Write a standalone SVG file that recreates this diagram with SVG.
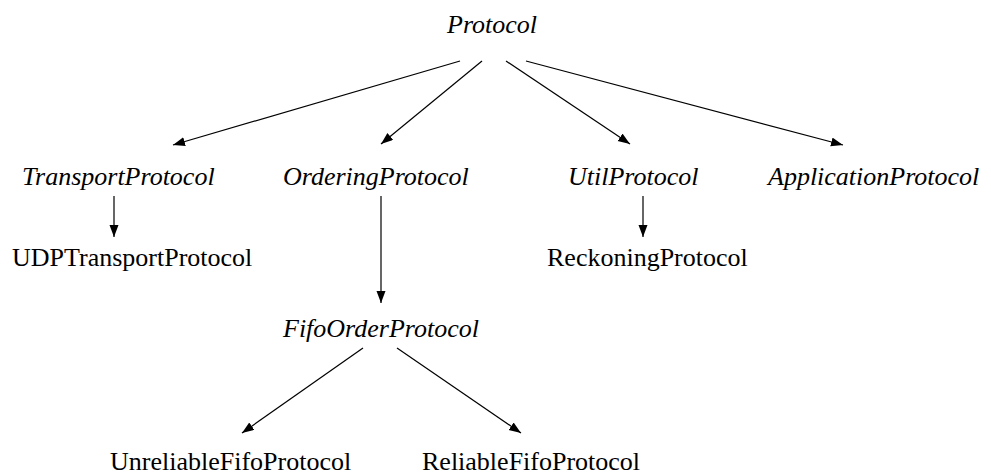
<svg xmlns="http://www.w3.org/2000/svg" width="991" height="475" viewBox="0 0 991 475">
<style>
text{font-family:'Liberation Serif','Times New Roman',Tinos,'DejaVu Serif',serif;font-size:26px;fill:#000}
.a{font-style:italic}
.e line{stroke:#000;stroke-width:1.2;fill:none;marker-end:url(#ah)}
</style>
<defs>
<marker id="ah" markerUnits="userSpaceOnUse" markerWidth="13" markerHeight="10" refX="12" refY="4.5" orient="auto">
<path d="M0,0 L12,4.5 L0,9 z" fill="#000"/>
</marker>
</defs>
<rect width="991" height="475" fill="#fff"/>
<g class="e" id="connectors">
<line x1="460" y1="61" x2="173" y2="145"/>
<line x1="482" y1="61" x2="381" y2="144"/>
<line x1="506" y1="61" x2="630" y2="144"/>
<line x1="526" y1="61" x2="843" y2="145"/>
<line x1="114" y1="196" x2="114" y2="237"/>
<line x1="381" y1="196" x2="381" y2="303"/>
<line x1="643" y1="196" x2="643" y2="237"/>
<line x1="363" y1="348" x2="242" y2="433"/>
<line x1="397" y1="348" x2="521" y2="433"/>
</g>
<g id="n-protocol"><text class="a" font-family="Liberation Serif, serif" x="447" y="33">Protocol</text></g>
<g id="n-transport"><text class="a" font-family="Liberation Serif, serif" x="22" y="185">TransportProtocol</text></g>
<g id="n-ordering"><text class="a" font-family="Liberation Serif, serif" x="283" y="185">OrderingProtocol</text></g>
<g id="n-util"><text class="a" font-family="Liberation Serif, serif" x="568" y="185">UtilProtocol</text></g>
<g id="n-application"><text class="a" font-family="Liberation Serif, serif" x="768" y="185">ApplicationProtocol</text></g>
<g id="n-udp"><text font-family="Liberation Serif, serif" x="12" y="266">UDPTransportProtocol</text></g>
<g id="n-reckoning"><text font-family="Liberation Serif, serif" x="547" y="266">ReckoningProtocol</text></g>
<g id="n-fifo"><text class="a" font-family="Liberation Serif, serif" x="283" y="337">FifoOrderProtocol</text></g>
<g id="n-unreliable"><text font-family="Liberation Serif, serif" x="110" y="470">UnreliableFifoProtocol</text></g>
<g id="n-reliable"><text font-family="Liberation Serif, serif" x="422" y="470">ReliableFifoProtocol</text></g>
</svg>
